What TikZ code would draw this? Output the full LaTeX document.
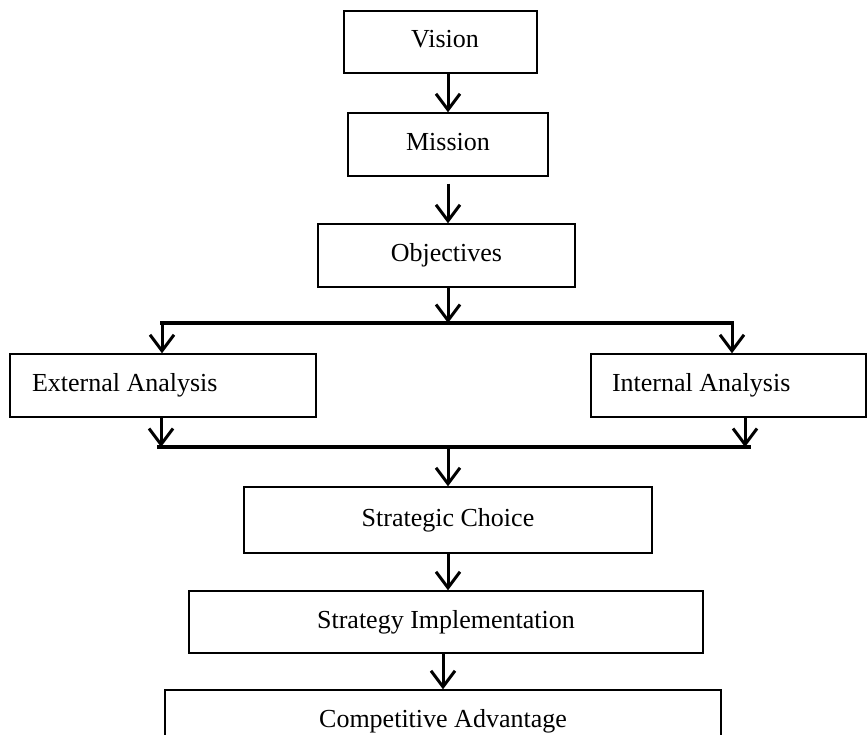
\documentclass[tikz,border=0pt]{standalone}
\usepackage{fontspec}
\setmainfont{Liberation Serif}
\usetikzlibrary{arrows.meta}
\begin{document}
\begin{tikzpicture}[x=1pt,y=-1pt,
  box/.style={draw=black,line width=1.4pt,rectangle,inner sep=0pt,
    font=\fontsize{26}{31}\selectfont,text height=17.7pt,text depth=5.7pt},
  arr/.style={line width=3pt,-{Straight Barb[length=16pt,width=24pt]}},
  bar/.style={line width=4pt}]
\useasboundingbox[fill=white] (0,0) rectangle (868,735);
% boxes
\node[box,minimum width=193pt,minimum height=62pt] (vision) at (440.5,42) {\makebox[185pt][r]{\makebox[0pt]{Vision}\hspace{88pt}}};
\node[box,minimum width=200pt,minimum height=63pt] (mission) at (448,144.5) {Mission};
\node[box,minimum width=257pt,minimum height=63pt] (objectives) at (446.5,255.5) {Objectives};
\node[box,minimum width=306pt,minimum height=63pt] (external) at (163,385.5) {\makebox[262pt][l]{External Analysis}};
\node[box,minimum width=275pt,minimum height=63pt] (internal) at (728.5,385.5) {\makebox[233pt][l]{Internal Analysis}};
\node[box,minimum width=408pt,minimum height=66pt] (strategic) at (448,520) {Strategic Choice};
\node[box,minimum width=514pt,minimum height=62pt] (impl) at (446,622) {Strategy Implementation};
\node[box,minimum width=556pt,minimum height=62pt] (comp) at (443,721) {Competitive Advantage};
% junction coordinates
\coordinate (tl) at (160,323);
\coordinate (tr) at (733.5,323);
\coordinate (tm) at (448,323);
\coordinate (tla) at (162,323);
\coordinate (tra) at (732,323);
\coordinate (bl) at (157,447);
\coordinate (br) at (751,447);
\coordinate (bm) at (448,447);
\coordinate (bla) at (161,447);
\coordinate (bra) at (745,447);
% connectors
\draw[arr] (vision.south -| mission.north) -- (mission.north);
\draw[arr] ([yshift=-7pt]mission.south) -- (mission.south |- objectives.north);
\draw[arr] (objectives.south -| tm) -- (tm);
\draw[bar] (tl) -- (tr);
\draw[arr] (tla) -- (tla |- external.north);
\draw[arr] (tra) -- (tra |- internal.north);
\draw[arr] (external.south -| bla) -- (bla);
\draw[arr] (internal.south -| bra) -- (bra);
\draw[bar] (bl) -- (br);
\draw[arr] (bm) -- (bm |- strategic.north);
\draw[arr] (strategic.south -| bm) -- (impl.north -| bm);
\draw[arr] (impl.south -| comp.north) -- (comp.north);
\end{tikzpicture}
\end{document}
